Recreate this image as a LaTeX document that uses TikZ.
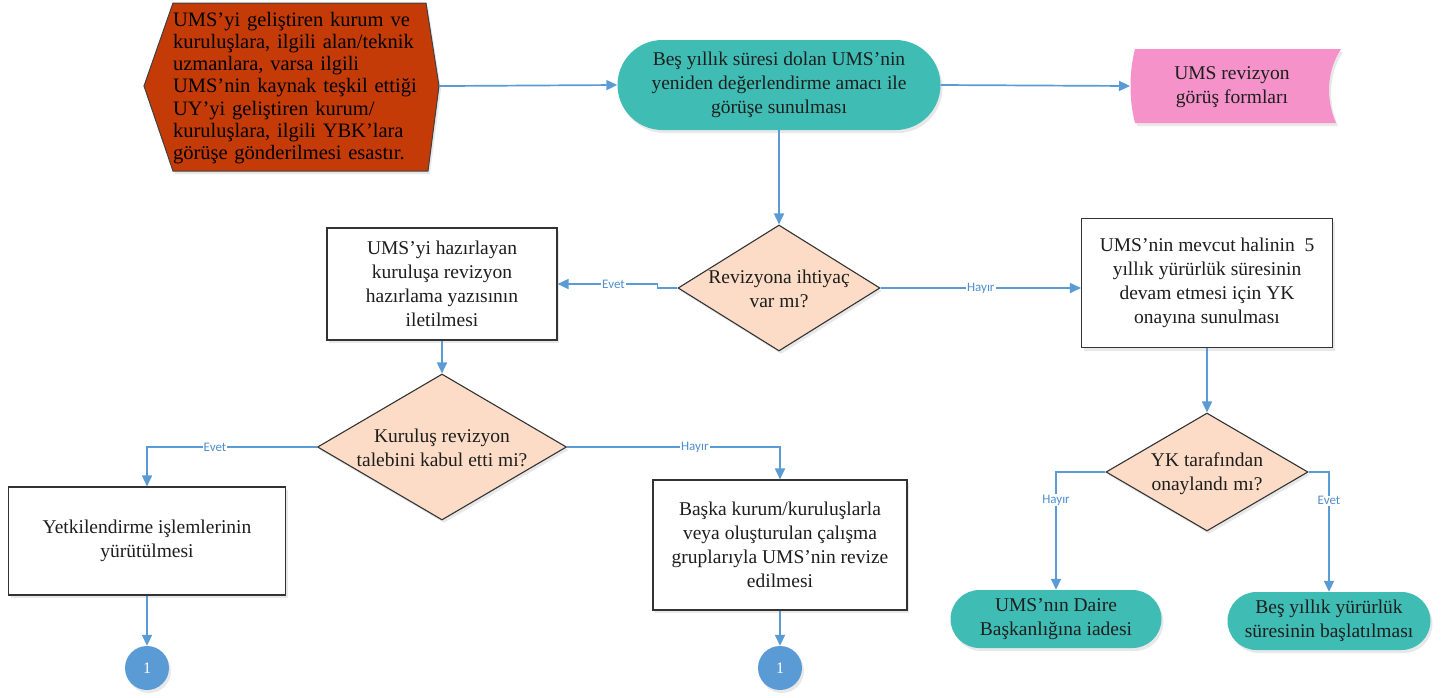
\documentclass[tikz,border=0pt]{standalone}
\usepackage{fontspec}
\setmainfont{Liberation Serif}
\newfontfamily\lblfont{Carlito}
\usetikzlibrary{shapes.geometric,arrows.meta,shadows}
\definecolor{flow}{HTML}{5B9BD5}
\definecolor{tealfill}{HTML}{3FBDB4}
\definecolor{redfill}{HTML}{C43B08}
\definecolor{pinkfill}{HTML}{F592C9}
\definecolor{peach}{HTML}{FCDCC6}
\definecolor{lbl}{HTML}{4F8FD0}
\definecolor{ink}{HTML}{1E1E1E}
\begin{document}
\begin{tikzpicture}[x=1pt,y=-1pt,
  every node/.style={font=\fontsize{19.5}{24}\selectfont, text=ink},
  shd/.style={drop shadow={opacity=0.18, shadow xshift=2pt, shadow yshift=-3pt}},
  procbox/.style={draw=black!80, line width=1.1pt, fill=white, align=center, inner sep=0pt, shd},
  term/.style={draw=none, fill=tealfill, align=center, inner sep=0pt, shd},
  dia/.style={diamond, draw=black!80, line width=1.1pt, fill=peach, inner sep=0pt, shd},
  conn/.style={circle, fill=flow, draw=none, minimum size=44pt, inner sep=0pt, text=white, font=\fontsize{16}{16}\selectfont, shd},
  flowline/.style={draw=flow, line width=1.7pt, -{Triangle[length=11pt,width=10pt]}},
  elbl/.style={fill=white, inner sep=1pt, text=lbl, font=\lblfont\fontsize{13}{13}\selectfont}
]
\useasboundingbox (0,0) rectangle (1451,697);

% red hexagon
\coordinate (hexL) at (144,86);
\coordinate (hexR) at (439,86);
\path[fill=redfill, draw=black!75, line width=1pt, shd]
  (hexL) -- (173,3) -- (426,3) -- (hexR) -- (428,171) -- (173,171) -- cycle;
\node[align=left, text width=252pt, inner sep=0pt, text=black, font=\fontsize{20.5}{22.2}\selectfont] (hext) at (299,88)
  {UMS’yi geliştiren kurum ve\\kuruluşlara, ilgili alan/teknik\\uzmanlara, varsa ilgili\\UMS’nin kaynak teşkil ettiği\\UY’yi geliştiren kurum/\\kuruluşlara, ilgili YBK’lara\\görüşe gönderilmesi esastır.};

% top terminal
\node[term, minimum width=323pt, minimum height=90pt, rounded corners=45pt] (t1) at (779,85)
  {Beş yıllık süresi dolan UMS’nin\\yeniden değerlendirme amacı ile\\görüşe sunulması};

% pink stored data
\coordinate (pkL) at (1130,86);
\path[fill=pinkfill, shd]
  (1135,49) -- (1341,49) .. controls (1326,72) and (1326,100) .. (1336,123)
  -- (1135,123) .. controls (1129,100) and (1129,72) .. (1135,49) -- cycle;
\node[align=center] (pk) at (1232,87) {UMS revizyon\\görüş formları};

% decision 1
\node[dia, minimum width=202pt, minimum height=126pt] (d1) at (779,288) {};
\node[align=center] (d1t) at (779,289) {Revizyona ihtiyaç\\var mı?};

% left box 1
\node[procbox, minimum width=230pt, minimum height=112pt] (b1) at (442,284)
  {UMS’yi hazırlayan\\kuruluşa revizyon\\hazırlama yazısının\\iletilmesi};

% right box 1
\node[procbox, minimum width=251pt, minimum height=129pt] (b2) at (1207,283)
  {UMS’nin mevcut halinin ~5\\yıllık yürürlük süresinin\\devam etmesi için YK\\onayına sunulması};

% decision 2
\node[dia, minimum width=249pt, minimum height=146pt] (d2) at (442,447) {};
\node[align=center] (d2t) at (442,448) {Kuruluş revizyon\\talebini kabul etti mi?};

% decision 3
\node[dia, minimum width=202pt, minimum height=118pt] (d3) at (1207,472) {};
\node[align=center] (d3t) at (1207,474) {YK tarafından\\onaylandı mı?};

% bottom boxes
\node[procbox, minimum width=277pt, minimum height=108pt] (b3) at (147,541)
  {Yetkilendirme işlemlerinin\\yürütülmesi};
\node[procbox, minimum width=254pt, minimum height=130pt] (b4) at (780,545)
  {Başka kurum/kuruluşlarla\\veya oluşturulan çalışma\\gruplarıyla UMS’nin revize\\edilmesi};

% bottom terminals
\node[term, minimum width=211pt, minimum height=58pt, rounded corners=29pt] (t2) at (1056,619)
  {UMS’nın Daire\\Başkanlığına iadesi};
\node[term, minimum width=203pt, minimum height=58pt, rounded corners=29pt] (t3) at (1329,621)
  {Beş yıllık yürürlük\\süresinin başlatılması};

% connectors
\node[conn] (c1) at (147,668) {1};
\node[conn] (c2) at (780,668) {1};

% edges
\draw[flowline] (hexR) -- ++(8,0) -- (t1.west);
\draw[flowline] (t1.east) -- (pkL);
\draw[flowline] (t1.south) -- (d1.north);
\draw[flowline] (d1.west) -- ++(-20,0) |- (b1.east) node[elbl, pos=0.72] {Evet};
\draw[flowline] (d1.east) -- (d1.east -| b2.west) node[elbl, midway] {Hayır};
\draw[flowline] (b1.south) -- (d2.north);
\draw[flowline] (d2.west) -| (b3.north) node[elbl, pos=0.3] {Evet};
\draw[flowline] (d2.east) -| (b4.north) node[elbl, pos=0.3] {Hayır};
\draw[flowline] (b2.south) -- (d3.north);
\draw[flowline] (d3.west) -| (t2.north) node[elbl, pos=0.62] {Hayır};
\draw[flowline] (d3.east) -| (t3.north) node[elbl, pos=0.62] {Evet};
\draw[flowline] (b3.south) -- (c1.north);
\draw[flowline] (b4.south) -- (c2.north);
\end{tikzpicture}
\end{document}
